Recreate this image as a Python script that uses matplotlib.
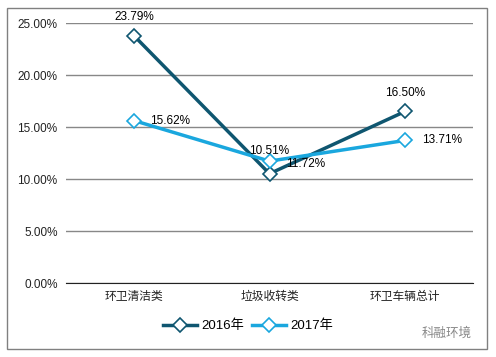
import matplotlib
matplotlib.use("Agg")
import matplotlib.pyplot as plt
from matplotlib.patches import Rectangle
from matplotlib.ticker import FuncFormatter

plt.rcParams['font.family'] = ['Liberation Sans', 'Noto Sans CJK SC', 'DejaVu Sans']

categories = ["环卫清洁类", "垃圾收转类", "环卫车辆总计"]
years = ["2016年", "2017年"]
v2016 = [23.79, 10.51, 16.50]
v2017 = [15.62, 11.72, 13.71]
colors = ["#0F5670", "#1AA7DE"]

fig = plt.figure(figsize=(4.96, 3.57), dpi=100)
fig.patches.append(Rectangle((7 / 496, 8 / 357), 480 / 496, 341 / 357, transform=fig.transFigure,
                             fill=False, edgecolor="#808080", lw=1))
ax = fig.add_axes([66 / 496, 1 - 283 / 357, 407 / 496, 260 / 357])

x = range(len(categories))
for vals, c, lab in [(v2016, colors[0], years[0]), (v2017, colors[1], years[1])]:
    ax.plot(x, vals, color=c, lw=2.5, marker="D", ms=7, mfc="white", mec=c, mew=1.2,
            label=lab, zorder=3)

ax.set_xlim(-0.5, 2.5)
ax.set_ylim(0, 25)
ax.set_yticks([0, 5, 10, 15, 20, 25])
ax.yaxis.set_major_formatter(FuncFormatter(lambda v, p: f"{v:.2f}%"))
ax.set_xticks(list(x))
ax.set_xticklabels(categories)
ax.grid(axis="y", color="#888888", lw=1)
ax.set_axisbelow(True)
for s in ["top", "right", "left"]:
    ax.spines[s].set_visible(False)
ax.spines["bottom"].set_color("#222222")
ax.tick_params(length=0, labelsize=8.5, colors="#222222", pad=6)

fs = 8.5
ax.annotate(f"{v2016[0]:.2f}%", (0, v2016[0]), xytext=(0, 9), textcoords="offset points", ha="center", va="bottom", fontsize=fs)
ax.annotate(f"{v2017[0]:.2f}%", (0, v2017[0]), xytext=(12, 0), textcoords="offset points", ha="left", va="center", fontsize=fs)
ax.annotate(f"{v2016[1]:.2f}%", (1, v2016[1]), xytext=(0, 12), textcoords="offset points", ha="center", va="bottom", fontsize=fs)
ax.annotate(f"{v2017[1]:.2f}%", (1, v2017[1]), xytext=(12, -2), textcoords="offset points", ha="left", va="center", fontsize=fs)
ax.annotate(f"{v2016[2]:.2f}%", (2, v2016[2]), xytext=(0, 9), textcoords="offset points", ha="center", va="bottom", fontsize=fs)
ax.annotate(f"{v2017[2]:.2f}%", (2, v2017[2]), xytext=(12, 0), textcoords="offset points", ha="left", va="center", fontsize=fs)

fig.legend(loc="center", bbox_to_anchor=(0.5, 1 - 326 / 357), ncol=2, frameon=False,
           fontsize=9.5, handlelength=2.6, columnspacing=0.6, handletextpad=0.3)
fig.text(0.9, 1 - 334 / 357, "科融环境", ha="center", va="center", fontsize=9, color="#888888")

fig.savefig("out.png", dpi=100)
